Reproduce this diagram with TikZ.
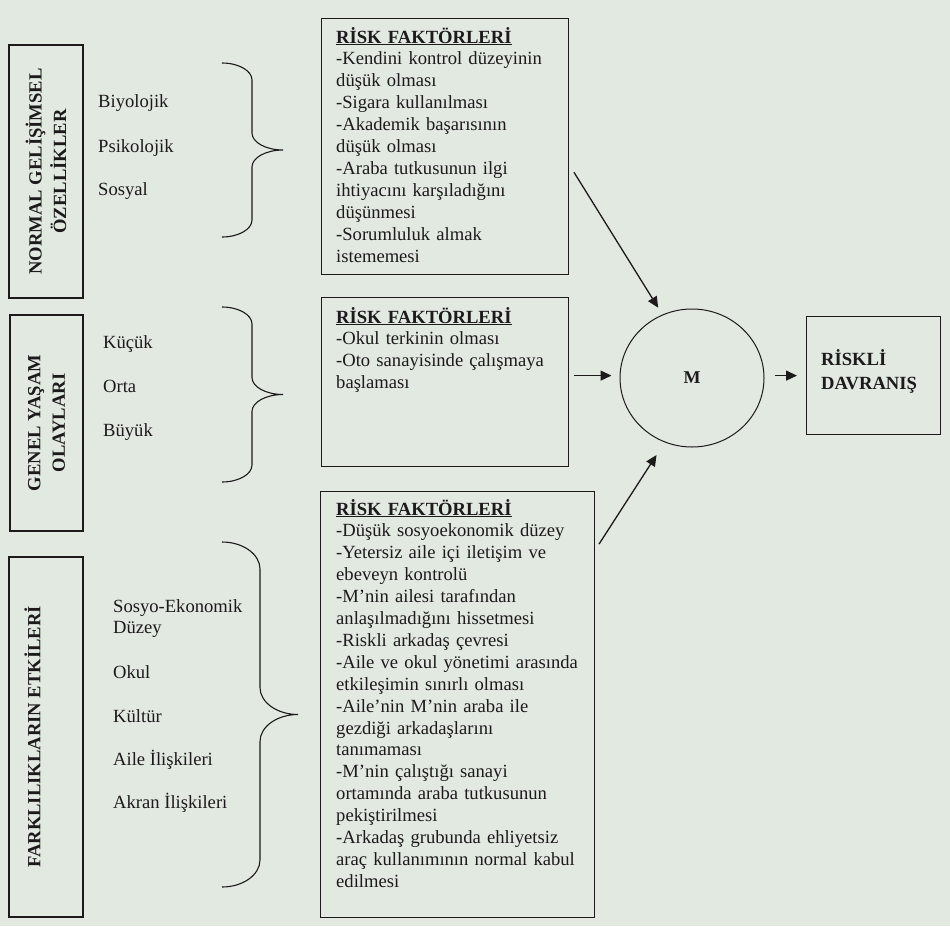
\documentclass[tikz,border=0pt]{standalone}
\usepackage{fontspec}
\setmainfont{Liberation Serif}
\usetikzlibrary{shapes.geometric}
\usetikzlibrary{arrows.meta}
\definecolor{color_model_bg}{HTML}{E2E9E1}
\definecolor{color_model_ink}{HTML}{1C1A1B}
\def\modellinewidth{1.2pt}
\def\itemfont{\fontsize{18.6}{21.9}\selectfont}
\def\headfont{\fontsize{18.6}{24.5}\selectfont\bfseries}
% curly brace opening to the left: (left x, stem x, tip x, top y, bottom y, bend)
\def\sidebrace(#1,#2,#3,#4,#5,#6){
    \draw[color_model_ink,line width=1.1pt]
        (#1,#4) .. controls ({#1+0.55*(#2-#1)},#4) and (#2,{#4+0.45*#6}) .. (#2,{#4+#6})
        -- (#2,{(#4+#5)/2-#6})
        .. controls (#2,{(#4+#5)/2-0.45*#6}) and ({#3-0.55*(#3-#2)},{(#4+#5)/2}) .. (#3,{(#4+#5)/2})
        .. controls ({#3-0.55*(#3-#2)},{(#4+#5)/2}) and (#2,{(#4+#5)/2+0.45*#6}) .. (#2,{(#4+#5)/2+#6})
        -- (#2,{#5-#6})
        .. controls (#2,{#5-0.45*#6}) and ({#1+0.55*(#2-#1)},#5) .. (#1,#5);
}
\def\riskhead{\textbf{\underline{RİSK FAKTÖRLERİ}}}
\tikzset{
    sidebox/.style={draw=color_model_ink, line width=\modellinewidth, rotate=90,
        align=center, font=\headfont, text=color_model_ink, inner sep=0pt},
    riskbox/.style={draw=color_model_ink, line width=\modellinewidth, anchor=north west, inner sep=0pt},
    risktext/.style={anchor=base west, text width=270pt, align=left, font=\itemfont,
        text=color_model_ink, inner sep=0pt},
    itemtext/.style={anchor=base west, font=\itemfont, text=color_model_ink, inner sep=0pt},
    flow/.style={draw=color_model_ink, line width=1.3pt, -{Triangle[length=11pt,width=10pt]}},
}

\begin{document}
\begin{tikzpicture}[x=1pt,y=-1pt]
    \fill[color_model_bg] (0,0) rectangle (950,926);

    % left column
    \node[sidebox, minimum width=253pt, minimum height=74pt] (normal) at (46,171.5) {NORMAL GELİŞİMSEL\\ÖZELLİKLER};
    \node[sidebox, minimum width=216pt, minimum height=73pt] (life) at (46.5,423) {GENEL YAŞAM\\OLAYLARI};
    \node[sidebox, minimum width=360pt, minimum height=74pt, text depth=27pt] (diff) at (46,737) {FARKLILIKLARIN ETKİLERİ};

    \foreach \itemname/\itemy [count=\i] in {Biyolojik/107, Psikolojik/152, Sosyal/195}
        \node[itemtext] (dev\i) at (98,\itemy) {\itemname};
    \foreach \itemname/\itemy [count=\i] in {Küçük/348, Orta/392, Büyük/436}
        \node[itemtext] (event\i) at (103,\itemy) {\itemname};
    \node[itemtext, text width=130pt, align=left] (diff1) at (113,612) {Sosyo-Ekonomik\\Düzey};
    \foreach \itemname/\itemy [count=\i from 2] in {Okul/678, Kültür/722, Aile İlişkileri/765, Akran İlişkileri/808}
        \node[itemtext] (diff\i) at (113,\itemy) {\itemname};

    % braces
    \sidebrace(222,252,283,63,237,17)
    \sidebrace(222,252,283,307,482,17)
    \sidebrace(222,260,298,542,887,27)

    % risk factors
    \node[riskbox, minimum width=247pt, minimum height=256pt] (riskA) at (321,18) {};
    \node[risktext] (riskAtext) at (336,43) {\riskhead\\
        -Kendini kontrol düzeyinin\\düşük olması\\-Sigara kullanılması\\
        -Akademik başarısının\\düşük olması\\-Araba tutkusunun ilgi\\
        ihtiyacını karşıladığını\\düşünmesi\\-Sorumluluk almak\\istememesi};
    \node[riskbox, minimum width=247pt, minimum height=169pt] (riskB) at (321,297) {};
    \node[risktext] (riskBtext) at (336,323) {\riskhead\\
        -Okul terkinin olması\\-Oto sanayisinde çalışmaya\\başlaması};
    \node[riskbox, minimum width=274pt, minimum height=426pt] (riskC) at (320,491) {};
    \node[risktext] (riskCtext) at (336,515) {\riskhead\\
        -Düşük sosyoekonomik düzey\\-Yetersiz aile içi iletişim ve\\ebeveyn kontrolü\\
        -M’nin ailesi tarafından\\anlaşılmadığını hissetmesi\\-Riskli arkadaş çevresi\\
        -Aile ve okul yönetimi arasında\\etkileşimin sınırlı olması\\
        -Aile’nin M’nin araba ile\\gezdiği arkadaşlarını\\tanımaması\\
        -M’nin çalıştığı sanayi\\ortamında araba tutkusunun\\pekiştirilmesi\\
        -Arkadaş grubunda ehliyetsiz\\araç kullanımının normal kabul\\edilmesi};

    % model and outcome
    \node[ellipse, draw=color_model_ink, line width=1pt, minimum width=144pt, minimum height=138pt,
        inner sep=0pt, font=\fontsize{18}{20}\selectfont\bfseries, text=color_model_ink] (M) at (692,378) {M};
    \node[riskbox, minimum width=134pt, minimum height=118pt] (behav) at (806,316) {};
    \node[itemtext, font=\headfont, text width=110pt, align=left] (behavtext) at (821,365) {RİSKLİ\\DAVRANIŞ};

    % arrows
    \draw[flow, shorten <=9pt, shorten >=8pt] ([shift={(0,18)}]riskA.east) -- (M.115);
    \draw[flow, shorten <=5pt, shorten >=8pt] (riskB.east |- behav.west) -- (M.west |- behav.west);
    \draw[flow, shorten <=7pt, shorten >=15pt] ([shift={(0,59)}]riskC.north east) -- (M.247);
    \draw[flow, shorten <=10pt, shorten >=9pt] (M.east |- behav.west) -- (behav.west);
\end{tikzpicture}
\end{document}
